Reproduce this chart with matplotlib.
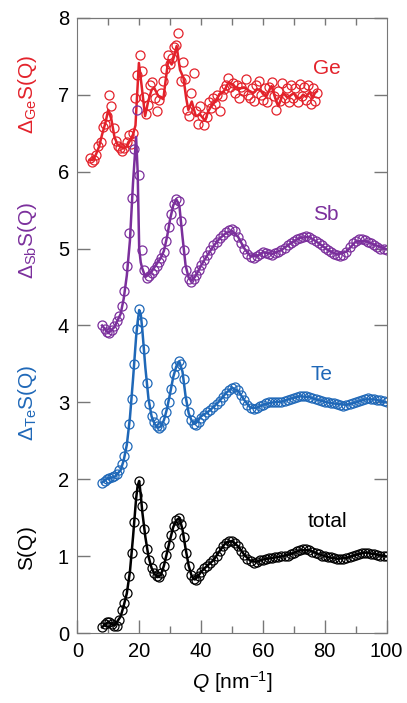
import numpy as np
import matplotlib.pyplot as plt

plt.rcParams['font.family'] = ['Liberation Sans', 'DejaVu Sans']
plt.rcParams['mathtext.fontset'] = 'custom'
plt.rcParams['mathtext.rm'] = 'Liberation Sans'
plt.rcParams['mathtext.it'] = 'Liberation Sans:italic'

# Q grid of the measured points (Te, Sb, total)
q_pts = [8.0, 8.8, 9.6, 10.4, 11.2, 12.0, 12.8, 13.6, 14.4, 15.2,
         16.0, 16.8, 17.6, 18.4, 19.2, 20.0, 20.8, 21.6, 22.4, 23.2,
         24.0, 24.8, 25.6, 26.4, 27.2, 28.0, 28.8, 29.6, 30.4, 31.2,
         32.0, 32.8, 33.6, 34.4, 35.2, 36.0, 36.8, 37.6, 38.4, 39.2, 40.0,
         41, 42, 43, 44, 45, 46, 47, 48, 49, 50,
         51, 52, 53, 54, 55, 56, 57, 58, 59, 60,
         61, 62, 63, 64, 65, 66, 67, 68, 69, 70,
         71, 72, 73, 74, 75, 76, 77, 78, 79, 80,
         81, 82, 83, 84, 85, 86, 87, 88, 89, 90,
         91, 92, 93, 94, 95, 96, 97, 98, 99, 100]

total_pts = [0.08, 0.12, 0.15, 0.15, 0.12, 0.10, 0.10, 0.18, 0.30, 0.40,
             0.52, 0.75, 1.05, 1.45, 1.80, 1.98, 1.65, 1.35, 1.10, 0.95,
             0.85, 0.78, 0.74, 0.73, 0.78, 0.88, 1.02, 1.15, 1.28, 1.40,
             1.47, 1.50, 1.42, 1.25, 1.05, 0.87, 0.76, 0.71, 0.70, 0.74, 0.80,
             0.85, 0.88, 0.92, 0.95, 1.00, 1.07, 1.13, 1.18, 1.20, 1.20,
             1.18, 1.13, 1.07, 1.02, 0.97, 0.94, 0.92, 0.93, 0.95, 0.96,
             0.97, 0.98, 0.98, 0.99, 0.99, 1.00, 1.00, 1.01, 1.03, 1.05,
             1.07, 1.08, 1.09, 1.09, 1.08, 1.06, 1.05, 1.03, 1.01, 1.00,
             0.99, 0.99, 0.98, 0.97, 0.97, 0.97, 0.98, 0.99, 1.01, 1.02,
             1.03, 1.04, 1.05, 1.04, 1.03, 1.03, 1.02, 1.01, 1.00, 1.00]

te_pts = [1.95, 1.98, 2.00, 2.02, 2.03, 2.04, 2.07, 2.12, 2.20, 2.30,
          2.43, 2.72, 3.04, 3.50, 3.95, 4.22, 4.05, 3.70, 3.25, 2.98,
          2.82, 2.74, 2.69, 2.67, 2.70, 2.77, 2.88, 3.00, 3.18, 3.37,
          3.47, 3.54, 3.50, 3.30, 3.02, 2.87, 2.77, 2.72, 2.71, 2.74, 2.80,
          2.84, 2.87, 2.90, 2.94, 2.98, 3.02, 3.07, 3.12, 3.16, 3.19,
          3.20, 3.16, 3.10, 3.03, 2.97, 2.93, 2.92, 2.93, 2.95, 2.97,
          2.99, 3.00, 3.00, 3.00, 3.00, 3.01, 3.02, 3.03, 3.05, 3.06,
          3.07, 3.08, 3.09, 3.08, 3.07, 3.06, 3.04, 3.03, 3.02, 3.01,
          3.00, 2.99, 2.99, 2.98, 2.97, 2.96, 2.97, 2.98, 2.99, 3.00,
          3.02, 3.03, 3.05, 3.06, 3.05, 3.04, 3.03, 3.03, 3.02, 3.00]

sb_pts = [4.01, 3.96, 3.92, 3.90, 3.94, 3.99, 4.06, 4.12, 4.25, 4.45,
          4.77, 5.20, 5.65, 6.29, 6.80, 5.96, 4.98, 4.72, 4.62, 4.64,
          4.68, 4.72, 4.77, 4.82, 4.88, 4.95, 5.10, 5.28, 5.45, 5.58,
          5.64, 5.62, 5.36, 4.98, 4.72, 4.61, 4.57, 4.60, 4.66, 4.72, 4.78,
          4.85, 4.92, 4.98, 5.04, 5.09, 5.14, 5.18, 5.21, 5.24, 5.25,
          5.23, 5.15, 5.07, 5.00, 4.93, 4.89, 4.88, 4.90, 4.93, 4.95,
          4.94, 4.93, 4.92, 4.94, 4.96, 4.98, 5.01, 5.04, 5.07, 5.10,
          5.12, 5.14, 5.15, 5.16, 5.15, 5.13, 5.10, 5.07, 5.04, 5.01,
          4.98, 4.95, 4.93, 4.91, 4.90, 4.91, 4.96, 5.02, 5.07, 5.10,
          5.12, 5.12, 5.11, 5.09, 5.07, 5.04, 5.02, 5.00, 4.99, 4.98]

# Q grid of the fitted curves (Te, Sb, total)
q_fit = [8, 10, 12, 14, 15, 16, 17, 18, 19, 19.5, 20, 20.5,
         21, 22, 23, 24, 25, 26, 27, 28, 29, 30,
         31, 32, 33, 34, 35, 36, 37, 38, 39, 40,
         42, 44, 46, 48, 50, 52, 54, 56, 58, 60,
         63, 66, 69, 72, 75, 78, 81, 84, 87, 90, 93, 96, 100]

total_fit = [0.08, 0.15, 0.10, 0.22, 0.36, 0.52, 0.80, 1.25, 1.75, 1.92, 1.98, 1.80,
             1.58, 1.25, 1.00, 0.85, 0.77, 0.73, 0.76, 0.88, 1.05, 1.22,
             1.38, 1.47, 1.50, 1.35, 1.10, 0.88, 0.74, 0.70, 0.74, 0.80,
             0.88, 0.95, 1.07, 1.18, 1.20, 1.13, 1.02, 0.94, 0.93, 0.96,
             0.98, 1.00, 1.03, 1.08, 1.08, 1.03, 0.99, 0.97, 0.98, 1.02, 1.05, 1.03, 1.00]

te_fit = [1.96, 2.02, 2.03, 2.12, 2.25, 2.45, 2.80, 3.30, 3.85, 4.05, 4.20, 4.15,
          3.95, 3.45, 3.05, 2.82, 2.72, 2.67, 2.69, 2.77, 2.92, 3.12,
          3.33, 3.47, 3.53, 3.40, 3.08, 2.86, 2.76, 2.72, 2.76, 2.82,
          2.87, 2.94, 3.02, 3.12, 3.19, 3.15, 3.03, 2.93, 2.93, 2.97,
          3.00, 3.01, 3.05, 3.08, 3.07, 3.03, 3.00, 2.98, 2.97, 3.00, 3.04, 3.04, 3.00]

sb_fit = [4.00, 3.90, 3.98, 4.15, 4.35, 4.65, 5.10, 5.85, 6.45, 6.00, 5.00, 4.82,
          4.74, 4.63, 4.66, 4.70, 4.76, 4.82, 4.88, 4.97, 5.15, 5.38,
          5.56, 5.64, 5.55, 5.15, 4.78, 4.62, 4.58, 4.63, 4.70, 4.78,
          4.91, 5.03, 5.13, 5.20, 5.23, 5.15, 5.00, 4.90, 4.90, 4.95,
          4.93, 4.98, 5.07, 5.14, 5.15, 5.07, 4.98, 4.92, 4.96, 5.09, 5.10, 5.05, 4.99]

# Ge has its own (shorter and noisier) data
q_ge = [4.0, 4.7, 5.4, 6.1, 6.8, 7.5, 8.2, 8.9, 9.6, 10.3,
        11.0, 11.7, 12.4, 13.1, 13.8, 14.5, 15.2, 15.9, 16.6, 17.3,
        18.0, 18.7, 19.4, 20.1, 20.8, 21.5, 22.2, 22.9, 23.6, 24.3,
        25.0, 25.7, 26.4, 27.1, 27.8, 28.5, 29.2, 29.9, 30.6, 31.3,
        32.0, 32.7, 33.4, 34.1, 34.8, 35.5, 36.2, 36.9, 37.6, 38.3,
        39.0, 39.7, 40.4, 41.1, 41.8, 42.5, 43.2, 43.9, 44.6, 45.3,
        46.0, 46.7, 47.4, 48.1, 48.8, 49.5, 50.2, 50.9, 51.6, 52.3,
        53.0, 53.7, 54.4, 55.1, 55.8, 56.5, 57.2, 57.9, 58.6, 59.3,
        60.0, 60.7, 61.4, 62.1, 62.8, 63.5, 64.2, 64.9, 65.6, 66.3,
        67.0, 67.7, 68.4, 69.1, 69.8, 70.5, 71.2, 71.9, 72.6, 73.3,
        74.0, 74.7, 75.4, 76.1, 76.8, 77.5]

ge_pts = [6.18, 6.12, 6.15, 6.22, 6.33, 6.38, 6.58, 6.62, 6.72, 6.99,
          6.85, 6.56, 6.40, 6.33, 6.30, 6.27, 6.30, 6.38, 6.47, 6.36,
          6.50, 6.96, 7.26, 7.52, 7.30, 6.97, 6.75, 6.87, 7.12, 7.16,
          6.95, 6.78, 6.93, 7.02, 7.17, 7.33, 7.52, 7.40, 7.48, 7.62,
          7.65, 7.80, 7.18, 7.42, 7.20, 6.80, 6.72, 7.02, 7.28, 6.78,
          6.62, 6.85, 6.72, 6.60, 6.71, 6.90, 6.82, 6.95, 6.88, 7.00,
          6.78, 6.98, 7.07, 7.12, 7.22, 7.10, 7.15, 7.02, 7.12, 6.96,
          7.10, 7.05, 7.20, 7.00, 6.95, 7.08, 6.92, 7.12, 7.18, 7.00,
          6.93, 7.08, 6.90, 7.10, 7.16, 6.98, 6.80, 7.05, 6.92, 7.15,
          6.96, 7.08, 6.90, 7.12, 6.95, 7.08, 6.90, 7.14, 6.98, 7.10,
          6.93, 7.13, 6.88, 7.08, 6.92, 7.02]

q_ge_fit = [4, 5, 6, 7, 8, 9, 10, 11, 12, 13, 14, 15, 16, 17, 18,
            18.8, 19.2, 19.9, 20.8, 21.9, 22.9, 24, 24.8, 26.2, 27.8,
            28.6, 29.4, 30.5, 31.3, 32.1, 33.2, 34.3, 35.2, 35.9, 37,
            38.3, 39.7, 41.3, 42.3, 43.3, 44.5, 46, 47.5, 48.8, 49.8,
            51, 52.5, 54, 55.5, 56.9, 58, 59.1, 60.2, 61.2, 62.3,
            62.8, 64, 65, 66.6, 67.7, 68.7, 70, 71, 72.2, 73,
            74, 75.2, 76, 76.8, 77.4]

ge_fit = [6.15, 6.15, 6.22, 6.32, 6.48, 6.62, 6.80, 6.68, 6.45, 6.35, 6.32, 6.30, 6.33, 6.40, 6.48,
          6.60, 6.90, 7.41, 7.11, 6.72, 6.91, 7.06, 7.09, 6.98, 6.94,
          7.20, 7.45, 7.39, 7.50, 7.63, 7.32, 7.22, 6.95, 6.80, 6.91,
          6.72, 6.74, 6.66, 6.78, 6.85, 6.91, 7.00, 7.05, 7.15, 7.14,
          7.10, 7.08, 7.09, 7.05, 7.02, 7.07, 7.06, 7.00, 6.98, 7.08,
          7.11, 6.95, 6.85, 7.02, 6.97, 6.98, 7.02, 6.95, 6.96, 7.00,
          6.97, 7.04, 6.95, 7.02, 7.04]

names = ['Ge', 'Sb', 'Te', 'total']
colors = ['#e3222b', '#7b2f9c', '#1f68b8', 'black']
ylabels = [r'$\Delta_{\mathrm{Ge}}\mathrm{S(Q)}$', r'$\Delta_{\mathrm{Sb}}\mathrm{S(Q)}$',
           r'$\Delta_{\mathrm{Te}}\mathrm{S(Q)}$', r'$\mathrm{S(Q)}$']
ylabel_pos = [7.0, 5.1, 3.0, 1.1]
name_pos = [(80.6, 7.34), (80.3, 5.44), (78.8, 3.36), (80.7, 1.45)]

series = [(q_ge, ge_pts, q_ge_fit, ge_fit),
          (q_pts, sb_pts, q_fit, sb_fit),
          (q_pts, te_pts, q_fit, te_fit),
          (q_pts, total_pts, q_fit, total_fit)]

fig = plt.figure(figsize=(4.07, 7.03), dpi=100)
ax = fig.add_axes([0.19, 0.099, 0.76, 0.876])

for (qp, sp, qf, sf), c in zip(series, colors):
    ax.plot(qp, sp, 'o', mfc='none', mec=c, ms=6.5, mew=0.9)
    ax.plot(qf, sf, '-', color=c, lw=1.8)

for name, c, (x, y) in zip(names, colors, name_pos):
    ax.text(x, y, name, color=c, fontsize=15, ha='center', va='center')

for lab, c, y in zip(ylabels, colors, ylabel_pos):
    ax.text(-0.16, y, lab, color=c, fontsize=15, rotation=90, ha='center', va='center',
            transform=ax.get_yaxis_transform())

ax.set_xlim(0, 100)
ax.set_ylim(0, 8)
ax.set_xticks(np.arange(0, 101, 20))
ax.set_xticks(np.arange(10, 100, 20), minor=True)
ax.set_yticks(np.arange(0, 9, 1))

grey = '#777777'
for sp in ax.spines.values():
    sp.set_color(grey)
ax.tick_params(which='major', direction='in', length=9.5, width=1, color=grey,
               labelsize=14.5, pad=6, right=True)
ax.tick_params(which='minor', direction='in', length=5, width=1, color=grey)

top = ax.secondary_xaxis('top')
top.set_xticks(np.arange(10, 100, 10))
top.tick_params(direction='in', length=5, width=1, color=grey, labeltop=False)
top.spines['top'].set_color(grey)

ax.set_xlabel(r'$\mathit{Q}$ [nm$^{-1}$]', fontsize=15, labelpad=6)

plt.savefig('out.png', dpi=100)
